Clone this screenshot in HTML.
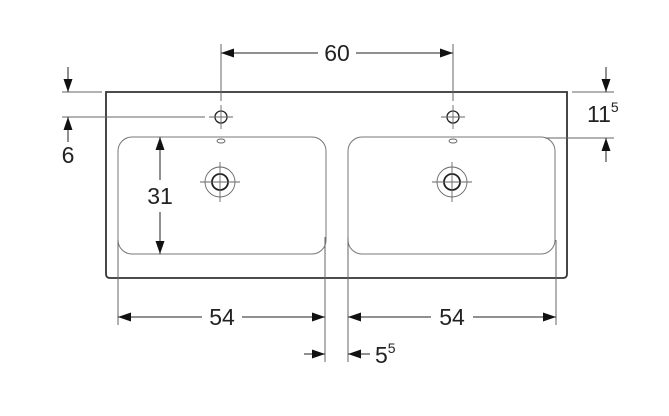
<!DOCTYPE html>
<html><head><meta charset="utf-8"><style>
html,body{margin:0;padding:0;background:#fff;width:669px;height:416px;overflow:hidden}
text{font-family:"Liberation Sans",sans-serif;fill:#222}
</style></head><body>
<svg width="669" height="416" viewBox="0 0 669 416" xmlns="http://www.w3.org/2000/svg">
<defs>
<marker id="a" viewBox="0 0 13 9" refX="13" refY="4.5" markerWidth="13" markerHeight="9" markerUnits="userSpaceOnUse" orient="auto-start-reverse"><path d="M0,0L13,4.5L0,9Z" fill="#111"/></marker>
</defs>
<g fill="none" stroke-linecap="butt">
<path d="M106,92 H567 V274 Q567,278 563,278 H110 Q106,278 106,274 Z" stroke="#333" stroke-width="1.8"/>
<rect x="118" y="137" width="208" height="117" rx="14" stroke="#777" stroke-width="1"/>
<rect x="348" y="137" width="207" height="117" rx="14" stroke="#777" stroke-width="1"/>
<g stroke="#666" stroke-width="1">
<line x1="118" y1="240" x2="118" y2="325"/>
<line x1="325" y1="237" x2="325" y2="362"/>
<line x1="348" y1="237" x2="348" y2="362"/>
<line x1="556" y1="240" x2="556" y2="325"/>
<line x1="221" y1="44" x2="221" y2="101"/>
<line x1="453" y1="44" x2="453" y2="101"/>
<line x1="62" y1="92" x2="102" y2="92"/>
<line x1="62" y1="117" x2="205" y2="117"/>
<line x1="572" y1="92" x2="614" y2="92"/>
<line x1="545" y1="138" x2="614" y2="138"/>
</g>
<g stroke="#222" stroke-width="1.3">
<circle cx="221" cy="117" r="6"/><circle cx="453" cy="117" r="6"/>
<circle cx="220" cy="182" r="8" stroke-width="1.8"/><circle cx="452" cy="182" r="8" stroke-width="1.8"/>
</g>
<g stroke="#666" stroke-width="0.9">
<circle cx="220" cy="182" r="15"/><circle cx="452" cy="182" r="15"/>
<ellipse cx="221" cy="141" rx="4" ry="2"/><ellipse cx="453" cy="141" rx="4" ry="2"/>
<path d="M209,117H233M221,105V129M441,117H465M453,105V129"/>
<path d="M200,182H240M220,162V202M432,182H472M452,162V202"/>
</g>
<g stroke="#222" stroke-width="1">
<line x1="221" y1="53" x2="318" y2="53" marker-start="url(#a)"/>
<line x1="356" y1="53" x2="453" y2="53" marker-end="url(#a)"/>
<line x1="68" y1="67" x2="68" y2="92" marker-end="url(#a)"/>
<line x1="68" y1="142" x2="68" y2="117" marker-end="url(#a)"/>
<line x1="606" y1="67" x2="606" y2="92" marker-end="url(#a)"/>
<line x1="606" y1="162" x2="606" y2="138" marker-end="url(#a)"/>
<line x1="160" y1="180" x2="160" y2="137" marker-end="url(#a)"/>
<line x1="160" y1="212" x2="160" y2="254" marker-end="url(#a)"/>
<line x1="118" y1="317" x2="202" y2="317" marker-start="url(#a)"/>
<line x1="242" y1="317" x2="325" y2="317" marker-end="url(#a)"/>
<line x1="348" y1="317" x2="431" y2="317" marker-start="url(#a)"/>
<line x1="473" y1="317" x2="556" y2="317" marker-end="url(#a)"/>
<line x1="304" y1="354" x2="325" y2="354" marker-end="url(#a)"/>
<line x1="370" y1="354" x2="348" y2="354" marker-end="url(#a)"/>
</g>
</g>
<g font-size="23">
<text x="337" y="61" text-anchor="middle">60</text>
<text x="68" y="163" text-anchor="middle">6</text>
<text x="160" y="204" text-anchor="middle">31</text>
<text x="222" y="325" text-anchor="middle">54</text>
<text x="452" y="325" text-anchor="middle">54</text>
<text x="375" y="363">5<tspan font-size="14" dy="-10">5</tspan></text>
<text x="587" y="122">11<tspan font-size="14" dy="-10">5</tspan></text>
</g>
</svg>
</body></html>
